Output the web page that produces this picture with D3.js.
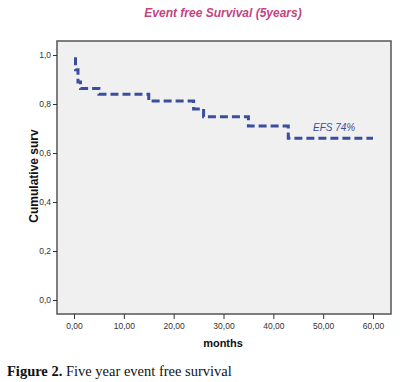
<!DOCTYPE html>
<html><head><meta charset="utf-8">
<script src="https://cdn.jsdelivr.net/npm/d3@7"></script>
<style>html,body{margin:0;padding:0;background:#fff;}</style>
</head><body>
<script>
const times = [0, 0.3, 0.8, 1.3, 5, 15, 24, 26, 35, 43, 60];
const survival = [0.985, 0.94, 0.89, 0.863, 0.84, 0.812, 0.78, 0.748, 0.71, 0.66, 0.66];
const xTicks = [0, 10, 20, 30, 40, 50, 60];
const yTicks = [0, 0.2, 0.4, 0.6, 0.8, 1.0];
const title = "Event free Survival (5years)";
const annotation = "EFS 74%";

const W = 402, H = 382;
const svg = d3.select("body").append("svg").attr("width", W).attr("height", H);
const fL = 57, fR = 391, fT = 41, fB = 314;
const x = d3.scaleLinear().domain([0, 60]).range([74, 373]);
const y = d3.scaleLinear().domain([0, 1]).range([300, 55]);

svg.append("text").attr("x", 223).attr("y", 17).attr("text-anchor", "middle")
  .attr("font-family", "Arial, 'Liberation Sans', sans-serif").attr("font-size", 12)
  .attr("font-weight", "bold").attr("font-style", "italic").attr("fill", "#c2457f").text(title);

svg.append("rect").attr("x", fL).attr("y", fT).attr("width", fR - fL).attr("height", fB - fT)
  .attr("fill", "#f0f0f0").attr("stroke", "#555").attr("stroke-width", 1.5);

const yAx = svg.append("g").attr("transform", `translate(${fL},0)`)
  .call(d3.axisLeft(y).tickValues(yTicks).tickSize(4).tickPadding(2).tickFormat(d => d3.format(".1f")(d).replace(".", ",")));
yAx.select(".domain").remove();
const xAx = svg.append("g").attr("transform", `translate(0,${fB})`)
  .call(d3.axisBottom(x).tickValues(xTicks).tickSize(5).tickPadding(4).tickFormat(d => d3.format(".2f")(d).replace(".", ",")));
xAx.select(".domain").remove();
svg.selectAll(".tick text").attr("font-family", "Arial, 'Liberation Sans', sans-serif").attr("font-size", 8.5).attr("fill", "#333");
svg.selectAll(".tick line").attr("stroke", "#333");

svg.append("text").attr("x", 223).attr("y", 347).attr("text-anchor", "middle")
  .attr("font-family", "Arial, 'Liberation Sans', sans-serif").attr("font-size", 11).attr("font-weight", "bold").attr("fill", "#111").text("months");
svg.append("text").attr("transform", "translate(38,176) rotate(-90)").attr("text-anchor", "middle")
  .attr("font-family", "Arial, 'Liberation Sans', sans-serif").attr("font-size", 12).attr("font-weight", "bold").attr("fill", "#111").text("Cumulative surv");

const pts = times.map((t, i) => [t, survival[i]]);
svg.append("path").datum(pts)
  .attr("d", d3.line().x(d => x(d[0])).y(d => y(d[1])).curve(d3.curveStepAfter))
  .attr("fill", "none").attr("stroke", "#3b4d9e").attr("stroke-width", 3).attr("stroke-dasharray", "8,4");

svg.append("text").attr("x", 313).attr("y", 131)
  .attr("font-family", "Arial, 'Liberation Sans', sans-serif").attr("font-size", 10).attr("font-style", "italic").attr("fill", "#3b4d9e").text(annotation);

const cap = svg.append("text").attr("x", 7).attr("y", 376).attr("font-family", "'Liberation Serif', 'Times New Roman', serif").attr("font-size", 14.5).attr("fill", "#111");
cap.append("tspan").attr("font-weight", "bold").text("Figure 2.");
cap.append("tspan").text(" Five year event free survival");
</script>
</body></html>
